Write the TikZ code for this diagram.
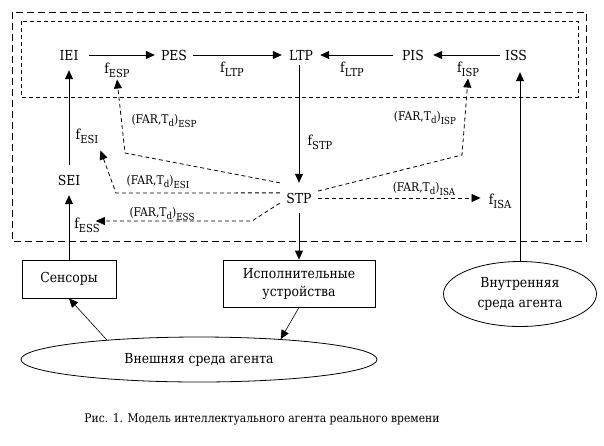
\documentclass[tikz,border=0pt]{standalone}
\usepackage{fontspec}
\setmainfont{DejaVu Serif Condensed}
\newfontfamily\serf{DejaVu Serif Condensed}[Scale=0.92]
\usetikzlibrary{arrows.meta,shapes.geometric,calc}
\newcommand\fsubtext[1]{\raisebox{-4pt}{\serf\fontsize{12}{12}\selectfont #1}}
\newcommand\flab[1]{f\fsubtext{#1}}
\newcommand\farlab[1]{(FAR,T\raisebox{-3pt}{\serf\fontsize{10.5}{10.5}\selectfont d})\raisebox{-4.5pt}{\serf\fontsize{10.5}{10.5}\selectfont #1}}
\tikzset{
  mainnode/.style={inner sep=0pt, font=\serf\fontsize{15}{15}\selectfont},
  flbl/.style={inner sep=2pt, font=\serf\fontsize{15}{15}\selectfont},
  farl/.style={inner sep=0pt, font=\serf\fontsize{13}{13}\selectfont},
  arr/.style={-{Triangle[length=9pt,width=8pt]}, line width=0.8pt},
  darr/.style={arr, dash pattern=on 4pt off 3pt},
  outerbox/.style={draw, line width=0.8pt, dash pattern=on 7pt off 4pt},
  innerbox/.style={draw, line width=0.8pt, dash pattern=on 4pt off 3pt},
  devbox/.style={draw, line width=0.8pt, inner sep=0pt, align=center, font=\serf\fontsize{15}{18}\selectfont},
  envell/.style={draw, ellipse, line width=0.8pt, inner sep=0pt, align=center, font=\serf\fontsize{15}{20}\selectfont},
}
\begin{document}
\begin{tikzpicture}[x=1pt,y=-1pt]
\useasboundingbox (0,0) rectangle (604,445);
% frames
\draw[outerbox] (12,12) rectangle (586,241);
\draw[innerbox] (21,21) rectangle (578,97);
% main nodes
\node[mainnode, minimum width=40pt, minimum height=30pt] (IEI) at (69,55) {IEI};
\node[mainnode, minimum width=38pt] (PES) at (174,55) {PES};
\node[mainnode, minimum width=38pt, minimum height=20pt] (LTP) at (301,55) {LTP};
\node[mainnode, minimum width=40pt] (PIS) at (413,55) {PIS};
\node[mainnode, minimum width=32pt, minimum height=34pt] (ISS) at (516,55) {ISS};
\node[mainnode, minimum width=30pt, minimum height=30pt] (SEI) at (69,180) {SEI};
\node[mainnode, minimum width=38pt, minimum height=30pt] (STP) at (299,198) {STP};
% f labels
\node[flbl] (fESP) at (117,70) {\flab{ESP}};
\node[flbl] (fLTPa) at (232,69) {\flab{LTP}};
\node[flbl] (fLTPb) at (352,69) {\flab{LTP}};
\node[flbl] (fISP) at (468,69) {\flab{ISP}};
\node[flbl] (fSTP) at (320,142) {\flab{STP}};
\node[flbl] (fESI) at (87,136) {\flab{ESI}};
\node[flbl] (fESS) at (87,225) {\flab{ESS}};
\node[flbl] (fISA) at (500,201) {\flab{ISA}};
% FAR labels
\node[farl] (lESP) at (164,121) {\farlab{ESP}};
\node[farl] (lESI) at (158,182) {\farlab{ESI}};
\node[farl] (lESS) at (162,214) {\farlab{ESS}};
\node[farl] (lISP) at (425,118) {\farlab{ISP}};
\node[farl] (lISA) at (424,189) {\farlab{ISA}};
% devices and environments
\node[devbox, minimum width=94pt, minimum height=38pt] (Sens) at (69,279) {Сенсоры};
\node[devbox, minimum width=152pt, minimum height=47pt] (Isp) at (299,283.5) {Исполнительные\\устройства};
\node[envell, minimum width=153pt, minimum height=65pt] (Vnutr) at (520,294) {Внутренняя\\среда агента};
\node[envell, minimum width=356pt, minimum height=45pt] (Vnesh) at (199,359.5) {Внешняя среда агента};
\node[inner sep=0pt, font=\serf\fontsize{13}{13}\selectfont] (cap) at (262,419) {Рис. 1. Модель интеллектуального агента реального времени};
% bend points
\coordinate (bESP) at (125,153);
\coordinate (bESI) at (116,193);
\coordinate (bESS) at (252,221);
\coordinate (bISP) at (462,155);
% solid arrows
\draw[arr] (IEI) -- (PES);
\draw[arr] (PES) -- (LTP);
\draw[arr] (PIS) -- (LTP);
\draw[arr] (ISS) -- (PIS);
\draw[arr] (SEI) -- (IEI);
\draw[arr] (Sens) -- (SEI);
\draw[arr] (LTP.south -| STP.north) -- (STP.north);
\draw[arr] (STP) -- (Isp);
\draw[arr] (Vnutr.north) -- (Vnutr.north |- ISS.south);
\draw[arr, line width=0.6pt] (Vnesh.168) -- (Sens.south);
\draw[arr, line width=0.6pt] (Isp.south) -- (Vnesh.14);
% dashed arrows
\draw[darr] (STP.north west) -- (bESP) -- (fESP.south);
\draw[darr] (STP.165) -- (bESI) -- ($(fESI.south east)+(0,5)$);
\draw[darr, shorten >=-6pt] (STP.195) -- (bESS) -- (bESS -| fESS.east);
\draw[darr] (STP.20) -- (bISP) -- (fISP.south);
\draw[darr, shorten >=6pt] (STP.east) -- (STP.east -| fISA.west);
\end{tikzpicture}
\end{document}
